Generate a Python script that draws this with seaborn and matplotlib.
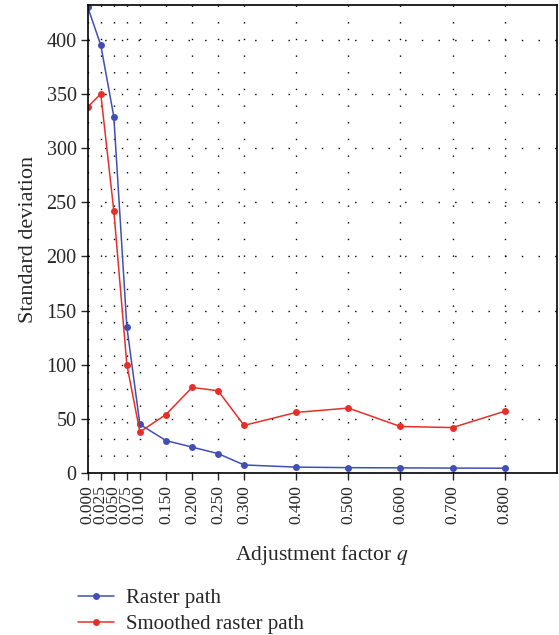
import matplotlib
matplotlib.use("Agg")
import matplotlib.pyplot as plt
import seaborn as sns
import pandas as pd

q_values = [0.000, 0.025, 0.050, 0.075, 0.100, 0.150, 0.200, 0.250, 0.300, 0.400, 0.500, 0.600, 0.700, 0.800]
tick_labels = ["0.000", "0.025", "0.050", "0.075", "0.100", "0.150", "0.200", "0.250", "0.300",
               "0.400", "0.500", "0.600", "0.700", "0.800"]
raster = [430, 395, 329, 135, 45, 30, 24, 18, 7.5, 5.5, 5, 4.8, 4.6, 4.5]
smoothed = [338, 350, 242, 100, 38, 54, 79, 76, 44, 56, 60, 43, 42, 57]
series_names = ["Raster path", "Smoothed raster path"]

df = pd.DataFrame({
    "q": q_values * 2,
    "sd": raster + smoothed,
    "series": [series_names[0]] * len(q_values) + [series_names[1]] * len(q_values),
})

sns.set_style("white")
plt.rcParams["font.family"] = ["Liberation Serif", "DejaVu Serif"]
plt.rcParams["mathtext.fontset"] = "stix"

fig = plt.figure(figsize=(5.59, 6.35), dpi=100)
ax = fig.add_axes([0.157, 0.255, 0.839, 0.737])

sns.lineplot(data=df, x="q", y="sd", hue="series",
             palette={series_names[0]: "#3f4fb5", series_names[1]: "#e5302a"},
             marker="o", markersize=5, markeredgewidth=0, linewidth=1.1, ax=ax)

ax.set_xlim(0, 0.9)
ax.set_ylim(0, 432)
ax.set_xticks(q_values)
ax.set_xticklabels(tick_labels, rotation=90, fontsize=12.5)
ax.set_yticks(range(0, 401, 50))
ax.tick_params(axis="y", labelsize=14.5, direction="out", length=5, width=1, left=True, pad=3)
ax.tick_params(axis="x", direction="out", length=5, width=1, bottom=True, pad=4)

ax.grid(True, color="black", linestyle=(0, (1, 11)), linewidth=1.0)
for s in ax.spines.values():
    s.set_color("black")
    s.set_linewidth(1.2)

ax.set_xlabel("Adjustment factor $q$", fontsize=15.5, labelpad=13)
ax.set_ylabel("Standard deviation", fontsize=16, labelpad=6)

handles, labels = ax.get_legend_handles_labels()
ax.legend(handles, labels, loc="upper left", bbox_to_anchor=(-0.038, -0.229),
          frameon=False, fontsize=15, handlelength=1.7, labelspacing=0.3,
          handletextpad=0.6, borderaxespad=0)

fig.savefig("out.png", dpi=100)
